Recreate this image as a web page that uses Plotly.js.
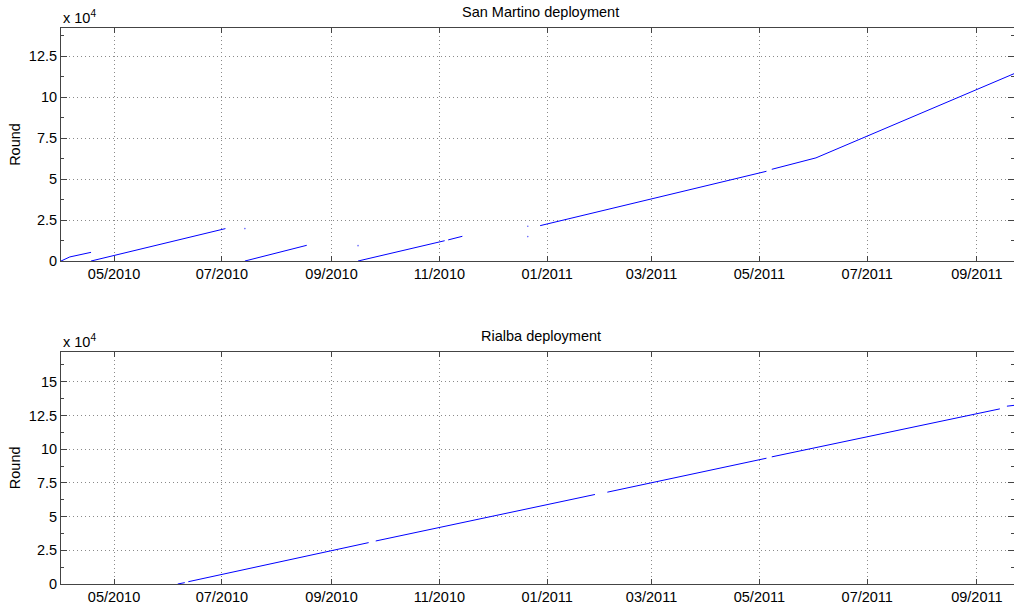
<!DOCTYPE html>
<html>
<head>
<meta charset="utf-8">
<script src="https://cdn.plot.ly/plotly-3.0.1.min.js"></script>
<style>
html,body{margin:0;padding:0;background:#fff;}
#chart{width:1014px;height:607px;}
</style>
</head>
<body>
<div id="chart"></div>
<script>
// San Martino deployment (null = gap in data)
const smDates = ['2010-04-01','2010-04-06','2010-04-18', null,
                 '2010-04-18','2010-07-03', null,
                 '2010-07-14','2010-08-18', null,
                 '2010-09-16','2010-11-04', null,
                 '2010-11-06','2010-11-14', null,
                 '2010-12-28','2011-05-05', null,
                 '2011-05-08','2011-06-02','2011-09-22'];
const smRounds = [0, 2500, 5300, null,
                  0, 19800, null,
                  0, 9600, null,
                  0, 12400, null,
                  12900, 15100, null,
                  21600, 54800, null,
                  56000, 63000, 114400];
// isolated samples
const smDotDates = ['2010-07-14','2010-09-16','2010-12-21','2010-12-21'];
const smDotRounds = [19800, 9400, 21200, 14900];

// Rialba deployment
const riDates = ['2010-06-06','2010-06-10', null,
                 '2010-06-12','2010-09-22', null,
                 '2010-09-26','2011-01-28', null,
                 '2011-02-04','2011-05-05', null,
                 '2011-05-08','2011-09-14', null,
                 '2011-09-18','2011-09-22'];
const riRounds = [0, 1000, null,
                  1700, 30700, null,
                  31900, 66400, null,
                  68100, 93300, null,
                  94300, 129900, null,
                  131900, 132500];

const yTickVals1 = [0, 25000, 50000, 75000, 100000, 125000];
const yTickText1 = ['0','2.5','5','7.5','10','12.5'];
const yTickVals2 = [0, 25000, 50000, 75000, 100000, 125000, 150000];
const yTickText2 = ['0','2.5','5','7.5','10','12.5','15'];

const FONT = '"Liberation Sans", Arial, Helvetica, sans-serif';
const FS = 14.5;
const LINE = '#0000ff';

const traces = [
  {x: smDates, y: smRounds, type: 'scatter', mode: 'lines', xaxis: 'x', yaxis: 'y',
   line: {color: LINE, width: 1}, connectgaps: false},
  {x: smDotDates, y: smDotRounds, type: 'scatter', mode: 'markers', xaxis: 'x', yaxis: 'y',
   marker: {color: '#6666ff', size: 1.6, line: {width: 0}}},
  {x: riDates, y: riRounds, type: 'scatter', mode: 'lines', xaxis: 'x2', yaxis: 'y2',
   line: {color: LINE, width: 1}, connectgaps: false}
];

const GRID = '#8a8a8a';
const GRIDDASH = '1px,3px';

function xAxis(anchor) {
  return {
    anchor: anchor, domain: [0, 1], type: 'date',
    range: ['2010-04-01', '2011-09-22'],
    tickmode: 'linear', tick0: '2010-05-01', dtick: 'M2', tickformat: '%m/%Y',
    ticks: 'inside', ticklen: 5, tickcolor: '#444', tickwidth: 1,
    showline: true, linecolor: '#444', linewidth: 1, mirror: 'ticks',
    showgrid: true, gridcolor: GRID, griddash: GRIDDASH, gridwidth: 1,
    zeroline: false,
    tickfont: {family: FONT, size: FS, color: '#000'}
  };
}
function yAxis(anchor, domain, range, tv, tt) {
  const minorVals = [];
  for (let v = 12500; v < range[1]; v += 25000) minorVals.push(v);
  return {
    anchor: anchor, domain: domain, range: range,
    tickmode: 'array', tickvals: tv, ticktext: tt,
    ticks: 'inside', ticklen: 6, tickcolor: '#444', tickwidth: 1,
    minor: {tickmode: 'array', tickvals: minorVals, ticks: 'inside', ticklen: 3, tickcolor: '#444', showgrid: false},
    showline: true, linecolor: '#444', linewidth: 1, mirror: 'ticks',
    showgrid: true, gridcolor: GRID, griddash: GRIDDASH, gridwidth: 1,
    zeroline: false,
    tickfont: {family: FONT, size: FS, color: '#000'},
    title: {text: 'Round', font: {family: FONT, size: FS, color: '#000'}, standoff: 4}
  };
}

const layout = {
  width: 1014, height: 607,
  margin: {l: 61, r: 0, t: 28, b: 23},
  paper_bgcolor: '#fff', plot_bgcolor: '#fff',
  showlegend: false,
  font: {family: FONT, size: FS, color: '#000'},
  xaxis: xAxis('y'),
  yaxis: yAxis('x', [0.5809, 1], [0, 142300], yTickVals1, yTickText1),
  xaxis2: xAxis('y2'),
  yaxis2: yAxis('x2', [0, 0.4178], [0, 172300], yTickVals2, yTickText2),
  annotations: [
    {text: 'San Martino deployment', xref: 'paper', yref: 'paper', x: 0.5033, y: 1, yshift: 6,
     xanchor: 'center', yanchor: 'bottom', showarrow: false, font: {family: FONT, size: FS, color: '#000'}},
    {text: 'Rialba deployment', xref: 'paper', yref: 'paper', x: 0.5033, y: 0.4178, yshift: 6,
     xanchor: 'center', yanchor: 'bottom', showarrow: false, font: {family: FONT, size: FS, color: '#000'}},
    {text: 'x 10<sup>4</sup>', xref: 'paper', yref: 'paper', x: 0, y: 1, yshift: 0,
     xanchor: 'left', yanchor: 'bottom', showarrow: false, font: {family: FONT, size: FS, color: '#000'}},
    {text: 'x 10<sup>4</sup>', xref: 'paper', yref: 'paper', x: 0, y: 0.4178, yshift: 0,
     xanchor: 'left', yanchor: 'bottom', showarrow: false, font: {family: FONT, size: FS, color: '#000'}}
  ]
};

Plotly.newPlot('chart', traces, layout, {staticPlot: true, displayModeBar: false});
</script>
</body>
</html>
